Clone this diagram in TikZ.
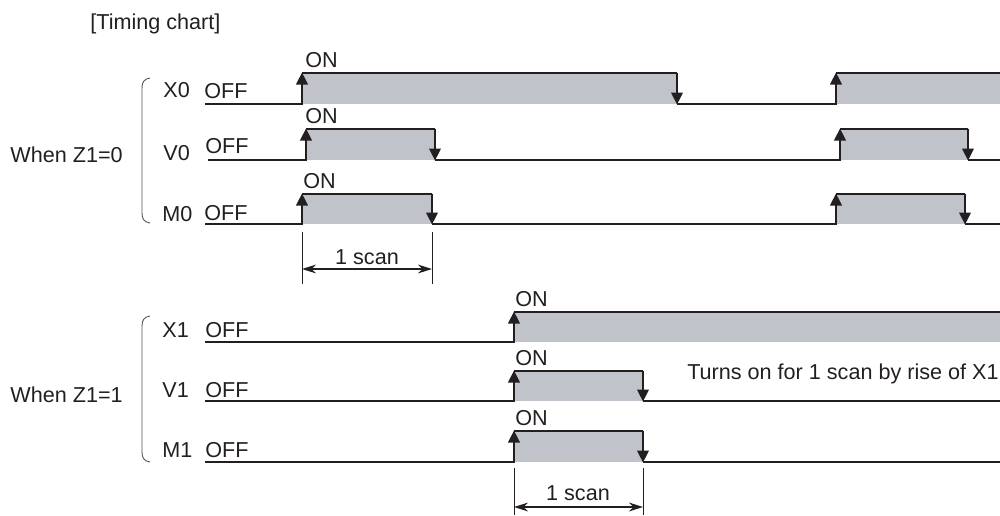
\documentclass[tikz,border=0pt]{standalone}
\usepackage{fontspec}
\setmainfont{Liberation Sans}
\usetikzlibrary{arrows.meta}
\definecolor{ink}{HTML}{231F20}
\definecolor{hifill}{RGB}{192,196,202}
\definecolor{bracecol}{HTML}{555555}
\tikzset{
  lbl/.style={inner sep=0pt, anchor=base west, text=ink, font=\fontsize{10.8}{13}\selectfont},
  sig/.style={draw=ink, line width=1.05pt, line join=miter},
  edge/.style={draw=ink, line width=1.05pt, -{Triangle[length=6pt,width=5.8pt]}},
  hi/.style={fill=hifill, draw=none},
  dimline/.style={draw=ink, line width=0.5pt},
  dimarrow/.style={draw=ink, line width=0.55pt, {Stealth[length=7pt,width=4.4pt]}-{Stealth[length=7pt,width=4.4pt]}},
  bracestyle/.style={draw=bracecol, line width=0.45pt}
}
\begin{document}
\begin{tikzpicture}[x=0.5pt,y=-0.5pt]
\useasboundingbox (0,0) rectangle (1000,515);

% title and group labels
\node[lbl] (title) at (90,29) {[Timing chart]};
\node[lbl] (z0) at (10,162) {When Z1=0};
\node[lbl] (z1) at (10,402) {When Z1=1};

% braces
\draw[bracestyle] (150,78) .. controls (144,79) and (142,82) .. (142,88) -- (142,213) .. controls (142,219) and (144,222) .. (150,223);
\draw[bracestyle] (150,316) .. controls (144,317) and (142,320) .. (142,326) -- (142,452) .. controls (142,458) and (144,461) .. (150,462);

% signal names
\node[lbl] (nX0) at (163,97) {X0};
\node[lbl] (nV0) at (163,160) {V0};
\node[lbl] (nM0) at (162,221) {M0};
\node[lbl] (nX1) at (162,337) {X1};
\node[lbl] (nV1) at (162,397) {V1};
\node[lbl] (nM1) at (162,457) {M1};

% OFF labels
\node[lbl] (offX0) at (204,98) {OFF};
\node[lbl] (offV0) at (205,153) {OFF};
\node[lbl] (offM0) at (204,220) {OFF};
\node[lbl] (offX1) at (205,337) {OFF};
\node[lbl] (offV1) at (205,397) {OFF};
\node[lbl] (offM1) at (205,457) {OFF};

% ON labels
\node[lbl] (onX0) at (305,67) {ON};
\node[lbl] (onV0) at (305,123) {ON};
\node[lbl] (onM0) at (303,188) {ON};
\node[lbl] (onX1) at (515,306) {ON};
\node[lbl] (onV1) at (515,365) {ON};
\node[lbl] (onM1) at (515,425) {ON};

% high-level fills
\fill[hi] (302,73) rectangle (677,104);
\fill[hi] (836,73) rectangle (1000,104);
\fill[hi] (306,129) rectangle (435,160);
\fill[hi] (840,129) rectangle (968,160);
\fill[hi] (302,194) rectangle (432,224);
\fill[hi] (836,194) rectangle (965,224);
\fill[hi] (514,312) rectangle (1000,342);
\fill[hi] (514,371) rectangle (643,401);
\fill[hi] (514,431) rectangle (643,462);

% waveforms
\draw[sig] (205,104) -- (302,104) (302,73) -- (677,73) (677,104) -- (836,104) (836,73) -- (1000,73);
\draw[sig] (208,160) -- (306,160) (306,129) -- (435,129) (435,160) -- (840,160) (840,129) -- (968,129) (968,160) -- (1000,160);
\draw[sig] (205,224) -- (302,224) (302,194) -- (432,194) (432,224) -- (836,224) (836,194) -- (965,194) (965,224) -- (1000,224);
\draw[sig] (205,342) -- (514,342) (514,312) -- (1000,312);
\draw[sig] (205,401) -- (514,401) (514,371) -- (643,371) (643,401) -- (1000,401);
\draw[sig] (205,462) -- (514,462) (514,431) -- (643,431) (643,462) -- (1000,462);

% edges with arrows
\draw[edge] (302,104.5) -- (302,72.5);
\draw[edge] (677,72.5) -- (677,104.5);
\draw[edge] (836,104.5) -- (836,72.5);
\draw[edge] (306,160.5) -- (306,128.5);
\draw[edge] (435,128.5) -- (435,160.5);
\draw[edge] (840,160.5) -- (840,128.5);
\draw[edge] (968,128.5) -- (968,160.5);
\draw[edge] (302,224.5) -- (302,193.5);
\draw[edge] (432,193.5) -- (432,224.5);
\draw[edge] (836,224.5) -- (836,193.5);
\draw[edge] (965,193.5) -- (965,224.5);
\draw[edge] (514,342.5) -- (514,311.5);
\draw[edge] (514,401.5) -- (514,370.5);
\draw[edge] (643,370.5) -- (643,401.5);
\draw[edge] (514,462.5) -- (514,430.5);
\draw[edge] (643,430.5) -- (643,462.5);

% scan dimensions
\coordinate (s0a) at (302,232);
\coordinate (s0b) at (432,232);
\draw[dimline] (s0a) -- ++(0,52);
\draw[dimline] (s0b) -- ++(0,52);
\coordinate (s0l) at (302,269);
\coordinate (s0r) at (432,269);
\draw[dimarrow] (s0l) -- (s0r);
\node[lbl, anchor=base] (scan0) at (367,264) {1 scan};

\coordinate (s1a) at (514,468);
\coordinate (s1b) at (643,468);
\draw[dimline] (s1a) -- ++(0,47);
\draw[dimline] (s1b) -- ++(0,47);
\coordinate (s1l) at (514,507);
\coordinate (s1r) at (643,507);
\draw[dimarrow] (s1l) -- (s1r);
\node[lbl, anchor=base] (scan1) at (578,500) {1 scan};

% note
\node[lbl, anchor=base east] (note) at (999,379) {Turns on for 1 scan by rise of X1};
\end{tikzpicture}
\end{document}
